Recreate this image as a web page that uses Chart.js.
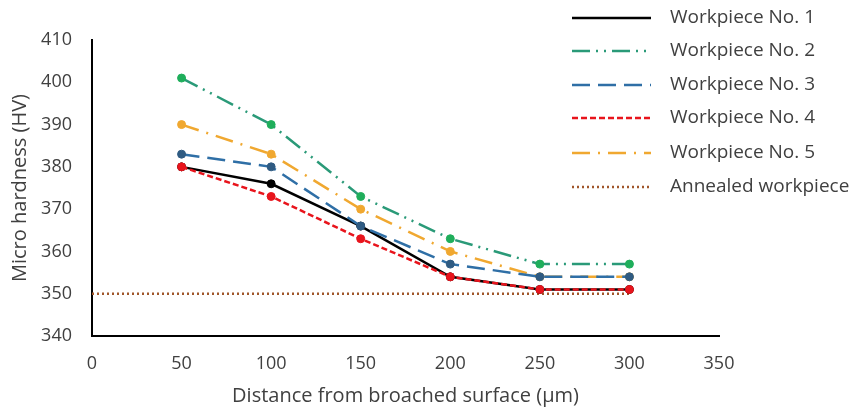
<!DOCTYPE html>
<html><head><meta charset="utf-8">
<script src="https://cdn.jsdelivr.net/npm/chart.js@4.4.1/dist/chart.umd.min.js"></script>
<style>html,body{margin:0;padding:0;background:#fff}#wrap{width:857px;height:411px}</style>
</head><body><div id="wrap"><canvas id="c" width="857" height="411"></canvas></div>
<script>
const distances = [50, 100, 150, 200, 250, 300];
const wp1 = [380, 376, 366, 354, 351, 351];
const wp2 = [401, 390, 373, 363, 357, 357];
const wp3 = [383, 380, 366, 357, 354, 354];
const wp4 = [380, 373, 363, 354, 351, 351];
const wp5 = [390, 383, 370, 360, 354, 354];
const annealedX = [0, 300];
const annealedY = [350, 350];
const seriesNames = ["Workpiece No. 1","Workpiece No. 2","Workpiece No. 3","Workpiece No. 4","Workpiece No. 5","Annealed workpiece"];
const xTicks = [0, 50, 100, 150, 200, 250, 300, 350];
const yTicks = [340, 350, 360, 370, 380, 390, 400, 410];

const pts = (xs, ys) => xs.map((x, i) => ({x, y: ys[i]}));
const FONT = "'Open Sans', 'Liberation Sans', sans-serif";

const styles = [
  {color:'#000000', pt:'#000000', dash:[], w:2.5},
  {color:'#2a9a78', pt:'#1fae5b', dash:[18,6,2,6,2,6], w:2.5},
  {color:'#2f6fa6', pt:'#2f5b82', dash:[18,8], w:2.5},
  {color:'#e8141c', pt:'#e8141c', dash:[6,3], w:2.5},
  {color:'#f0a830', pt:'#f0a830', dash:[18,8,2,8], w:2.5},
  {color:'#a0562a', pt:'#a0562a', dash:[2,3], w:2.5}
];
const datas = [wp1, wp2, wp3, wp4, wp5];
const orders = [5, 1, 3, 2, 4];
const datasets = datas.map((d, i) => ({
  label: seriesNames[i],
  data: pts(distances, d),
  borderColor: styles[i].color,
  backgroundColor: styles[i].pt,
  pointBackgroundColor: styles[i].pt,
  pointBorderColor: styles[i].pt,
  pointRadius: 4,
  pointBorderWidth: 1,
  borderWidth: styles[i].w,
  borderDash: styles[i].dash,
  tension: 0,
  order: orders[i]
}));
datasets.push({
  label: seriesNames[5],
  data: pts(annealedX, annealedY),
  borderColor: styles[5].color,
  borderWidth: styles[5].w,
  borderDash: styles[5].dash,
  pointRadius: 0,
  order: 10
});

const legendPlugin = {
  id: 'customLegend',
  afterDraw(chart) {
    const ctx = chart.ctx;
    const rows = [18, 51, 85, 118, 153, 187];
    ctx.save();
    seriesNames.forEach((name, i) => {
      const y = rows[i];
      ctx.beginPath();
      ctx.setLineDash(styles[i].dash);
      ctx.strokeStyle = styles[i].color;
      ctx.lineWidth = 2.5;
      ctx.moveTo(572, y);
      ctx.lineTo(651, y);
      ctx.stroke();
      ctx.setLineDash([]);
      ctx.fillStyle = '#404040';
      ctx.font = '19px ' + FONT;
      ctx.textBaseline = 'middle';
      ctx.textAlign = 'left';
      ctx.fillText(name, 670, y);
    });
    ctx.restore();
  }
};

new Chart(document.getElementById('c'), {
  type: 'line',
  data: { datasets },
  options: {
    responsive: false,
    animation: false,
    layout: { padding: { left: 4, right: 138, top: 40, bottom: 0 } },
    plugins: { legend: { display: false }, tooltip: { enabled: false } },
    scales: {
      x: {
        type: 'linear', min: 0, max: 350,
        afterBuildTicks: s => { s.ticks = xTicks.map(v => ({value: v})); },
        afterFit: s => { s.height = 75; },
        grid: { display: false, drawTicks: true, tickLength: 6, tickColor: '#000' },
        border: { color: '#000', width: 2 },
        ticks: { color: '#404040', font: { size: 18, family: FONT }, padding: 11 },
        title: { display: true, text: 'Distance from broached surface (μm)', color: '#404040', font: { size: 20, family: FONT }, padding: { top: 0, bottom: 3 } }
      },
      y: {
        type: 'linear', min: 340, max: 410,
        afterBuildTicks: s => { s.ticks = yTicks.map(v => ({value: v})); },
        afterFit: s => { s.width = 88; },
        grid: { display: false, drawTicks: true, tickLength: 6, tickColor: '#000' },
        border: { color: '#000', width: 2 },
        ticks: { color: '#404040', font: { size: 18, family: FONT }, padding: 14 },
        title: { display: true, text: 'Micro hardness (HV)', color: '#404040', font: { size: 20, family: FONT }, padding: { top: 4, bottom: 2 } }
      }
    }
  },
  plugins: [legendPlugin]
});
</script>
</body></html>
